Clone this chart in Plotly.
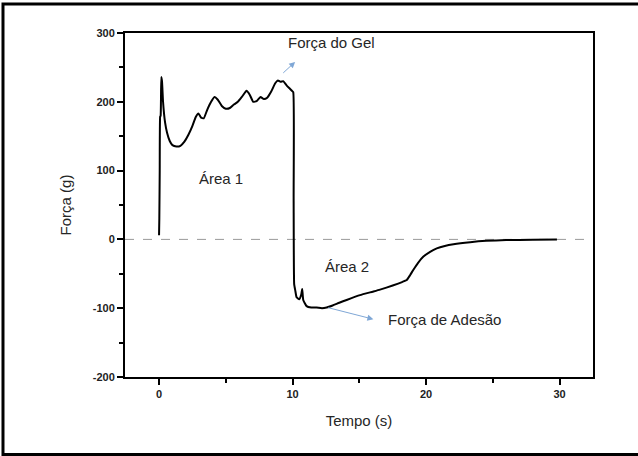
import plotly.graph_objects as go

# Data (time in s, force in g)
tempo = [0.0, 0.02, 0.05, 0.08, 0.12, 0.17, 0.22, 0.3, 0.45, 0.6, 0.8, 1.0, 1.3, 1.6, 1.9,
         2.2, 2.5, 2.75, 2.95, 3.15, 3.35, 3.6, 3.9, 4.15, 4.4, 4.7, 5.0, 5.3, 5.6, 5.9,
         6.2, 6.55, 6.8, 7.05, 7.3, 7.6, 7.85, 8.1, 8.4, 8.7, 8.9, 9.1, 9.3, 9.55, 9.8,
         9.95, 10.05, 10.08, 10.12, 10.2, 10.3, 10.5, 10.65, 10.72, 10.8, 11.05, 11.4,
         11.8, 12.2, 12.55, 13.0, 13.5, 14.05, 15.05, 16.0, 16.55, 17.5, 18.2, 18.55,
         18.8, 19.05, 19.4, 19.8, 20.3, 20.8, 21.4, 22.05, 23.3, 24.5, 26.0, 28.0, 29.8]
forca = [6, 30, 100, 178, 180, 236, 230, 200, 170, 155, 143, 137, 135, 136, 142,
         152, 165, 178, 183, 177, 176, 188, 200, 207, 203, 194, 190, 191, 196, 200,
         207, 216, 210, 200, 201, 207, 204, 206, 215, 227, 231, 229, 230, 224, 219,
         216, 214, 60, -65, -74, -84, -87, -80, -72, -88, -97, -99,
         -99, -100, -99, -96, -92, -88, -81, -76, -73, -67, -62, -59,
         -52, -44, -34, -25, -18, -13, -9.5, -7, -4, -2, -1, -0.5, 0]

x_ticks = [0, 10, 20, 30]
y_ticks = [-200, -100, 0, 100, 200, 300]

font_family = "Arial, Liberation Sans, sans-serif"
text_color = "#262626"
arrow_color = "#7fa7d6"

fig = go.Figure()
fig.add_trace(go.Scatter(x=tempo, y=forca, mode="lines",
                         line=dict(color="black", width=2, shape="spline", smoothing=0.4),
                         showlegend=False))

fig.update_layout(
    width=638, height=456,
    margin=dict(l=125, r=45, t=33, b=79),
    paper_bgcolor="white", plot_bgcolor="white",
    font=dict(family=font_family, color="black"),
)

fig.update_xaxes(
    range=[-2.55, 32.5], tickvals=x_ticks, ticktext=[f"<b>{v}</b>" for v in x_ticks],
    ticks="outside", ticklen=6, tickwidth=2, tickcolor="black",
    minor=dict(dtick=5, tick0=0, ticks="outside", ticklen=4, tickwidth=2, tickcolor="black"),
    showline=True, linecolor="black", linewidth=2, mirror=True,
    showgrid=False, zeroline=False,
    tickfont=dict(size=11, family=font_family, color="#222"),
    title=dict(text="Tempo (s)", font=dict(size=15, family=font_family, color=text_color), standoff=16),
)
fig.update_yaxes(
    range=[-200, 300], tickvals=y_ticks, ticktext=[f"<b>{v}</b>" for v in y_ticks],
    ticks="outside", ticklen=6, tickwidth=2, tickcolor="black",
    minor=dict(dtick=50, tick0=0, ticks="outside", ticklen=4, tickwidth=2, tickcolor="black"),
    showline=True, linecolor="black", linewidth=2, mirror=True,
    showgrid=False, zeroline=False,
    tickfont=dict(size=11, family=font_family, color="#222"),
    title=dict(text="Força (g)", font=dict(size=15, family=font_family, color=text_color), standoff=18),
)

# dashed zero line
fig.add_shape(type="line", xref="paper", yref="y", x0=0, x1=1, y0=0, y1=0,
              line=dict(color="#9a9a9a", width=1, dash="dash"), layer="below")

# outer frame around the figure
fig.add_shape(type="rect", xref="paper", yref="paper",
              x0=-0.2607, x1=1.12, y0=-0.2253, y1=1.0843,
              line=dict(color="black", width=3))

# text labels
labels = [
    ("Força do Gel", 12.92, 285.5),
    ("Área 1", 4.64, 88),
    ("Área 2", 14.08, -40),
    ("Força de Adesão", 21.35, -117),
]
for txt, lx, ly in labels:
    fig.add_annotation(x=lx, y=ly, text=txt, showarrow=False,
                       font=dict(size=15, family=font_family, color=text_color))

# arrows
arrows = [((9.19, 240), (10.19, 258)), ((12.56, -98.7), (16.05, -116))]
for (tx, ty), (hx, hy) in arrows:
    fig.add_annotation(x=hx, y=hy, ax=tx, ay=ty, xref="x", yref="y", axref="x", ayref="y",
                       text="", showarrow=True, arrowhead=2, arrowsize=1.2,
                       arrowwidth=1, arrowcolor=arrow_color)

fig.write_html("out.html")
